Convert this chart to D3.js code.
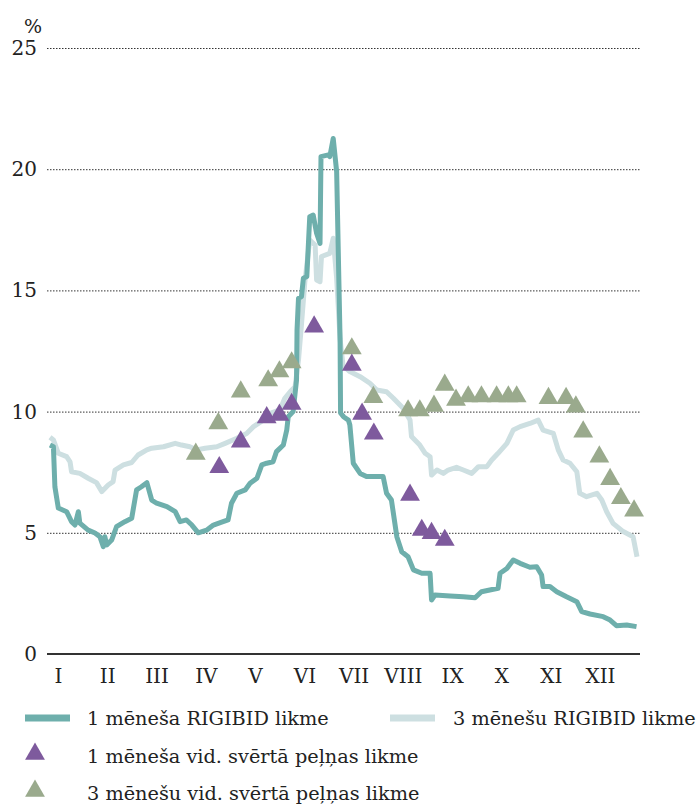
<!DOCTYPE html>
<html>
<head>
    <meta charset="utf-8">
    <style type="text/css">
        body { margin: 0; background: #fff; }
        #mySvg { width: 700px; height: 804px; display: block; }
        text { font-family: "DejaVu Serif", serif; fill: #222; }
        .grid line { stroke: #333; stroke-width: 1px; stroke-dasharray: 1.5,1.5; }
        .grid .domain { display: none; }
        .months .domain, .months line { display: none; }
    </style>
    <script src="https://d3js.org/d3.v7.min.js"></script>
</head>
<body>
    <svg id="mySvg"></svg>
</body>
<script type="text/javascript">
// month labels and y ticks
const months = ['I', 'II', 'III', 'IV', 'V', 'VI', 'VII', 'VIII', 'IX', 'X', 'XI', 'XII'];
const yTicks = [0, 5, 10, 15, 20, 25];

// [month position (0..12), %]
const rigibid1m = [
    [0.00, 8.62], [0.07, 8.55], [0.10, 6.9], [0.17, 6.02], [0.34, 5.87], [0.44, 5.46], [0.51, 5.32],
    [0.58, 5.87], [0.61, 5.4], [0.78, 5.11], [0.92, 4.99], [1.02, 4.84], [1.09, 4.43], [1.12, 4.84],
    [1.16, 4.5], [1.26, 4.7], [1.36, 5.25], [1.53, 5.46], [1.67, 5.6], [1.77, 6.77], [1.87, 6.9],
    [1.98, 7.07], [2.08, 6.35], [2.18, 6.22], [2.39, 6.08], [2.56, 5.87], [2.66, 5.46], [2.79, 5.53],
    [2.90, 5.32], [3.03, 5.0], [3.20, 5.11], [3.34, 5.32], [3.48, 5.42], [3.64, 5.53], [3.71, 6.22],
    [3.82, 6.63], [3.99, 6.77], [4.09, 7.04], [4.23, 7.25], [4.33, 7.8], [4.43, 7.87], [4.56, 7.93],
    [4.63, 8.35], [4.77, 8.62], [4.84, 9.24], [4.87, 9.79], [4.97, 10.0], [5.04, 11.3], [5.05, 13.37],
    [5.08, 14.67], [5.14, 14.74], [5.18, 15.5], [5.25, 15.57], [5.31, 18.04], [5.38, 18.11], [5.45, 17.36],
    [5.52, 16.94], [5.54, 20.52], [5.69, 20.59], [5.72, 20.52], [5.79, 21.27], [5.86, 19.9], [5.93, 12.95],
    [5.94, 9.94], [6.00, 9.79], [6.10, 9.65], [6.13, 9.45], [6.20, 7.87], [6.34, 7.45], [6.47, 7.32],
    [6.81, 7.32], [6.88, 6.63], [6.98, 6.35], [7.09, 4.84], [7.19, 4.22], [7.32, 4.01], [7.43, 3.47],
    [7.60, 3.33], [7.77, 3.33], [7.80, 2.23], [7.87, 2.43], [8.18, 2.39], [8.45, 2.36], [8.69, 2.32],
    [8.82, 2.57], [8.99, 2.64], [9.16, 2.71], [9.20, 3.33], [9.34, 3.53], [9.47, 3.88], [9.61, 3.74],
    [9.81, 3.58], [9.95, 3.6], [10.05, 3.26], [10.08, 2.78], [10.22, 2.78], [10.36, 2.57], [10.56, 2.36],
    [10.77, 2.16], [10.87, 1.75], [11.04, 1.65], [11.31, 1.54], [11.45, 1.4], [11.58, 1.17], [11.79, 1.2],
    [11.99, 1.13]
];

const rigibid3m = [
    [0.00, 8.94], [0.07, 8.83], [0.17, 8.28], [0.34, 8.14], [0.41, 7.93], [0.44, 7.52], [0.61, 7.45],
    [0.78, 7.25], [0.95, 7.07], [1.06, 6.7], [1.19, 6.97], [1.29, 7.11], [1.33, 7.59], [1.50, 7.8],
    [1.67, 7.9], [1.80, 8.21], [1.98, 8.42], [2.08, 8.49], [2.32, 8.55], [2.56, 8.69], [2.69, 8.62],
    [2.86, 8.55], [3.00, 8.42], [3.17, 8.49], [3.41, 8.55], [3.58, 8.69], [3.82, 8.9], [4.02, 9.1],
    [4.16, 9.38], [4.36, 9.65], [4.50, 9.93], [4.70, 10.07], [4.80, 10.55], [4.91, 10.82], [5.01, 11.03],
    [5.08, 12.13], [5.14, 13.57], [5.21, 15.36], [5.31, 17.08], [5.42, 16.87], [5.45, 15.43], [5.52, 15.36],
    [5.55, 16.4], [5.72, 16.53], [5.79, 17.15], [5.86, 15.5], [5.93, 13.0], [5.99, 11.9], [6.13, 11.65],
    [6.34, 11.44], [6.54, 11.17], [6.68, 10.89], [6.88, 10.82], [7.02, 10.55], [7.22, 10.14], [7.36, 9.65],
    [7.39, 8.97], [7.56, 8.62], [7.67, 8.28], [7.77, 8.14], [7.80, 7.38], [7.91, 7.59], [8.04, 7.45],
    [8.14, 7.59], [8.31, 7.7], [8.45, 7.59], [8.62, 7.45], [8.76, 7.73], [8.93, 7.73], [9.03, 8.0],
    [9.16, 8.28], [9.34, 8.69], [9.47, 9.24], [9.61, 9.38], [9.81, 9.51], [9.98, 9.65], [10.08, 9.24],
    [10.29, 9.1], [10.39, 8.42], [10.49, 8.0], [10.63, 7.87], [10.77, 7.52], [10.83, 6.63], [10.97, 6.49],
    [11.18, 6.63], [11.28, 6.35], [11.38, 5.87], [11.51, 5.39], [11.72, 5.05], [11.92, 4.84], [12.00, 4.01]
];

const vid1m = [
    [3.46, 7.7], [3.90, 8.76], [4.43, 9.76], [4.69, 9.86], [4.94, 10.31], [5.40, 13.5], [6.17, 11.92],
    [6.38, 9.9], [6.62, 9.08], [7.36, 6.56], [7.60, 5.11], [7.80, 4.98], [8.07, 4.7]
];

const vid3m = [
    [2.98, 8.25], [3.44, 9.51], [3.90, 10.82], [4.46, 11.28], [4.69, 11.65], [4.94, 12.02], [6.17, 12.6],
    [6.61, 10.59], [7.32, 10.04], [7.56, 10.04], [7.85, 10.23], [8.07, 11.1], [8.30, 10.48], [8.55, 10.62],
    [8.82, 10.62], [9.13, 10.62], [9.37, 10.62], [9.54, 10.62], [10.19, 10.55], [10.55, 10.55], [10.75, 10.2],
    [10.90, 9.17], [11.23, 8.14], [11.45, 7.21], [11.67, 6.42], [11.94, 5.91]
];

const legendNames = ['1 mēneša RIGIBID likme', '3 mēnešu RIGIBID likme',
                     '1 mēneša vid. svērtā peļņas likme', '3 mēnešu vid. svērtā peļņas likme'];

const colors = { line1: '#6eafac', line3: '#cddfe1', tri1: '#7e5a9d', tri3: '#9aaa8d' };

const svg = d3.select('#mySvg');
const left = 47, right = 640;

const x = d3.scaleLinear().domain([0, 12]).range([50, 637]);
const y = d3.scaleLinear().domain([0, 25]).range([654, 48]);
const xMonth = d3.scalePoint().domain(months).range([58, 600]);

// gridlines + y labels
const gAxis = svg.append('g')
    .attr('class', 'grid')
    .attr('transform', 'translate(' + left + ',0)')
    .call(d3.axisLeft(y).tickValues(yTicks).tickSize(-(right - left)).tickPadding(10));
gAxis.selectAll('text').style('font-size', '20px');
gAxis.selectAll('.tick').filter(d => d === 0).select('line').remove();

// baseline
svg.append('line')
    .attr('x1', left).attr('x2', right)
    .attr('y1', y(0)).attr('y2', y(0))
    .attr('stroke', '#333').attr('stroke-width', 2);

svg.append('text')
    .attr('x', 33).attr('y', 33)
    .attr('text-anchor', 'middle')
    .style('font-size', '19px')
    .text('%');

// month labels
const gMonths = svg.append('g')
    .attr('class', 'months')
    .attr('transform', 'translate(0,' + y(0) + ')')
    .call(d3.axisBottom(xMonth).tickSize(0).tickPadding(15));
gMonths.selectAll('text').style('font-size', '20px');

// lines
const line = d3.line().x(d => x(d[0])).y(d => y(d[1]));

svg.append('path')
    .datum(rigibid3m)
    .attr('d', line)
    .attr('fill', 'none')
    .attr('stroke', colors.line3)
    .attr('stroke-width', 5)
    .attr('stroke-linejoin', 'round');

svg.append('path')
    .datum(rigibid1m)
    .attr('d', line)
    .attr('fill', 'none')
    .attr('stroke', colors.line1)
    .attr('stroke-width', 5)
    .attr('stroke-linejoin', 'round');

// triangles
const tri = d3.symbol().type(d3.symbolTriangle).size(170);

svg.append('g').selectAll('path')
    .data(vid3m)
    .enter()
    .append('path')
    .attr('d', tri)
    .attr('transform', d => 'translate(' + x(d[0]) + ',' + y(d[1]) + ')')
    .attr('fill', colors.tri3);

svg.append('g').selectAll('path')
    .data(vid1m)
    .enter()
    .append('path')
    .attr('d', tri)
    .attr('transform', d => 'translate(' + x(d[0]) + ',' + y(d[1]) + ')')
    .attr('fill', colors.tri1);

// legend
const legend = svg.append('g').attr('class', 'legend');

legend.append('rect').attr('x', 25).attr('y', 714.5).attr('width', 45).attr('height', 7).attr('fill', colors.line1);
legend.append('rect').attr('x', 390).attr('y', 714.5).attr('width', 45).attr('height', 7).attr('fill', colors.line3);
legend.append('path').attr('d', tri).attr('transform', 'translate(35,754)').attr('fill', colors.tri1);
legend.append('path').attr('d', tri).attr('transform', 'translate(35,791)').attr('fill', colors.tri3);

const legendPos = [[87, 718], [453, 718], [87, 756], [87, 793]];
legend.selectAll('text')
    .data(legendNames)
    .enter()
    .append('text')
    .attr('x', (d, i) => legendPos[i][0])
    .attr('y', (d, i) => legendPos[i][1])
    .attr('dy', '0.35em')
    .style('font-size', '19.3px')
    .text(d => d);
</script>
</html>
